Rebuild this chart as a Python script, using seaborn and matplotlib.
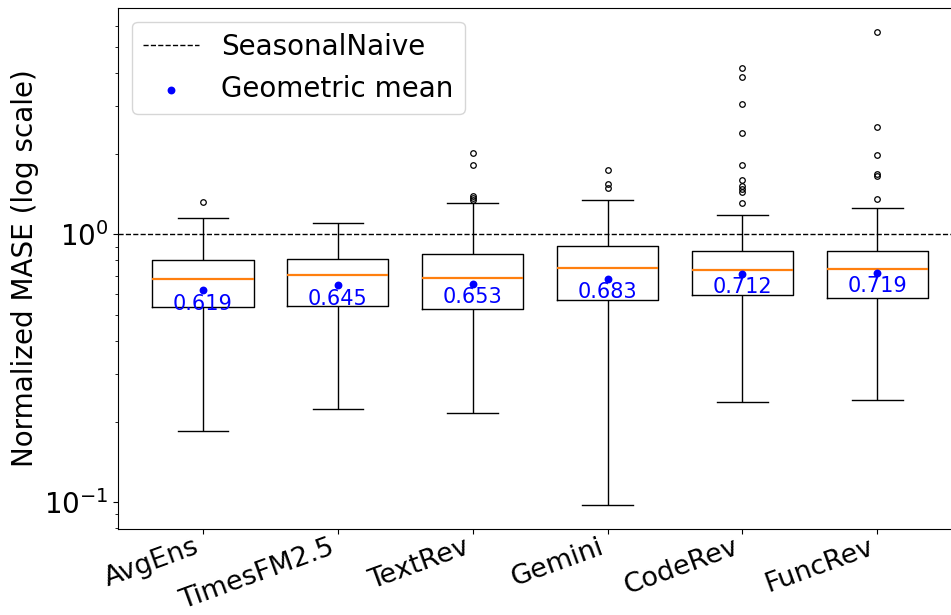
import numpy as np
import pandas as pd
import matplotlib
matplotlib.use("Agg")
import matplotlib.pyplot as plt
import seaborn as sns

# ---- data ----
categories = ["AvgEns", "TimesFM2.5", "TextRev", "Gemini", "CodeRev", "FuncRev"]
whisker_low = [0.1845, 0.2229, 0.216, 0.0977, 0.2367, 0.2414]
q1 = [0.5356, 0.5415, 0.526, 0.570, 0.595, 0.580]
median = [0.679, 0.707, 0.689, 0.7505, 0.736, 0.740]
q3 = [0.800, 0.809, 0.842, 0.904, 0.869, 0.864]
whisker_high = [1.147, 1.099, 1.305, 1.339, 1.180, 1.257]
outliers = [
    [1.320],
    [],
    [1.343, 1.366, 1.390, 1.809, 2.005],
    [1.492, 1.537, 1.733],
    [1.305, 1.438, 1.472, 1.514, 1.590, 1.818, 2.394, 3.056, 3.864, 4.183],
    [1.351, 1.650, 1.679, 1.982, 2.507, 5.686],
]
geo_mean = [0.619, 0.645, 0.653, 0.683, 0.712, 0.719]
baseline = 1.0

# ---- rebuild per-model samples whose box statistics match the summary ----
m = 12
rows = []
for name, lo, a, md, b, hi, fl in zip(categories, whisker_low, q1, median, q3,
                                       whisker_high, outliers):
    k = len(fl)
    vals = [lo] + [a] * m + [md] * m + [b] * m + [b] * (m - k - 1) + [hi] + sorted(fl)
    rows += [(name, v) for v in vals]
df = pd.DataFrame(rows, columns=["model", "mase"])

fig = plt.figure(figsize=(9.51, 6.15), dpi=100)
ax = fig.add_axes([0.1244, 0.1405, 1.0116 - 0.1244, 0.987 - 0.1405])

sns.boxplot(data=df, x="model", y="mase", order=categories, width=0.75,
            fill=False, color="black", linewidth=1.0, whis=1.5,
            medianprops=dict(color="#ff7f0e", linewidth=1.6),
            flierprops=dict(marker="o", markersize=4, markerfacecolor="none",
                            markeredgecolor="black", markeredgewidth=0.9),
            ax=ax)

ax.set_yscale("log")

line = ax.axhline(baseline, color="black", linestyle="--", linewidth=1.0,
                  label="SeasonalNaive")

xpos = np.arange(len(categories))
sns.scatterplot(x=xpos, y=geo_mean, color="blue", s=32, linewidth=0,
                zorder=4, ax=ax, label="Geometric mean", legend=False)

for x, g in zip(xpos, geo_mean):
    ax.annotate(f"{g:.3f}", xy=(x, g), xytext=(0, -2.5),
                textcoords="offset points", ha="center", va="top",
                fontsize=15, color="blue", zorder=5)

ax.set_xlim(-0.628, 5.628)
ax.set_ylim(0.0797, 6.99)
ax.set_xticks(xpos)
ax.set_xticklabels(categories, rotation=20, ha="right", fontsize=19.5)
ax.tick_params(axis="x", pad=0.5)
ax.tick_params(axis="y", labelsize=20)
ax.set_xlabel("")
ax.set_ylabel("Normalized MASE (log scale)", fontsize=20)

handles, labels = ax.get_legend_handles_labels()
ax.legend(handles, labels, loc="upper left", fontsize=20)

fig.savefig("out.png", dpi=100)
